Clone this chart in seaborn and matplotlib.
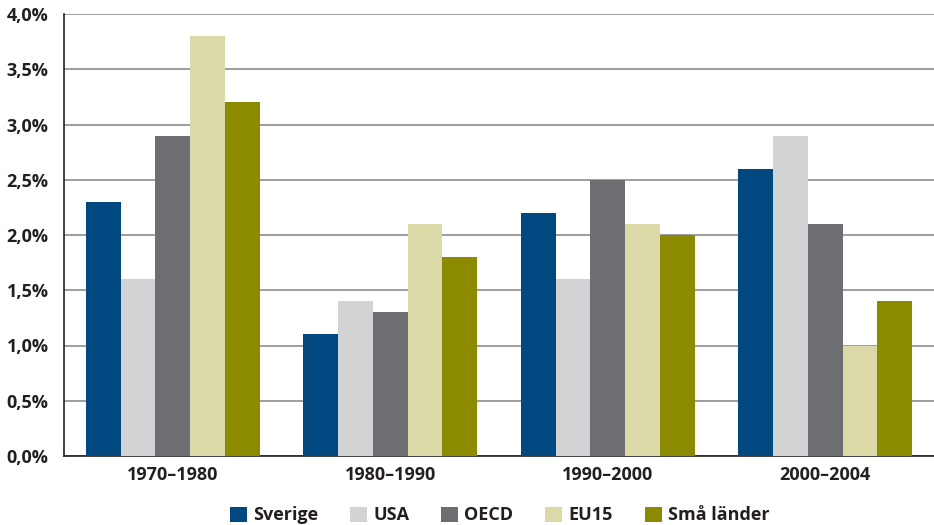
import matplotlib
matplotlib.use("Agg")
import matplotlib.pyplot as plt
import seaborn as sns
import pandas as pd
from matplotlib.ticker import FuncFormatter, FixedLocator
from matplotlib.patches import Patch

periods = ["1970–1980", "1980–1990", "1990–2000", "2000–2004"]
series = ["Sverige", "USA", "OECD", "EU15", "Små länder"]
sverige = [2.3, 1.1, 2.2, 2.6]
usa = [1.6, 1.4, 1.6, 2.9]
oecd = [2.9, 1.3, 2.5, 2.1]
eu15 = [3.8, 2.1, 2.1, 1.0]
sma_lander = [3.2, 1.8, 2.0, 1.4]
colors = ["#00487F", "#D1D3D4", "#6D6E71", "#DCD9A9", "#8C8A00"]

values = [sverige, usa, oecd, eu15, sma_lander]
df = pd.DataFrame(
    [(p, s, v[i]) for s, v in zip(series, values) for i, p in enumerate(periods)],
    columns=["period", "serie", "value"],
)

sns.set_theme(style="white")
plt.rcParams["font.family"] = ["Open Sans", "DejaVu Sans"]
text_color = "#231F20"
fs = 13

fig = plt.figure(figsize=(9.34, 5.25), dpi=100)
ax = fig.add_axes([64 / 934, 1 - 456 / 525, 1 - 64 / 934, (456 - 14) / 525])

sns.barplot(data=df, x="period", y="value", hue="serie", order=periods,
            hue_order=series, palette=colors, width=0.8, saturation=1,
            linewidth=0, ax=ax, legend=False, zorder=3)

ax.set_ylim(0, 4.0)
ax.set_xlim(-0.5, len(periods) - 0.5)
ax.set_yticks([i * 0.5 for i in range(9)])
ax.yaxis.set_major_formatter(FuncFormatter(lambda v, _: f"{v:.1f}%".replace(".", ",")))
ax.grid(axis="y", color="#8E8E8E", linewidth=1.2, zorder=0)
ax.set_axisbelow(True)
ax.set_xlabel("")
ax.set_ylabel("")

for side in ["top", "right"]:
    ax.spines[side].set_visible(False)
for side in ["left", "bottom"]:
    ax.spines[side].set_color("#231F20")
    ax.spines[side].set_linewidth(1.2)

ax.tick_params(axis="y", length=0, pad=11, labelsize=fs, labelcolor=text_color)
ax.tick_params(axis="x", which="major", length=0, pad=7, labelsize=fs, labelcolor=text_color)
for lab in ax.get_xticklabels() + ax.get_yticklabels():
    lab.set_fontweight("bold")

# Group separators on the baseline
ax.xaxis.set_minor_locator(FixedLocator([0.5, 1.5, 2.5]))
ax.tick_params(axis="x", which="minor", direction="in", length=10, width=1.0,
               color="#231F20")

handles = [Patch(facecolor=c, edgecolor="none") for c in colors]
leg = fig.legend(handles, series, loc="lower center", bbox_to_anchor=(0.535, -0.03),
                 ncol=5, frameon=False, handlelength=0.95, handleheight=0.95,
                 handletextpad=0.35, columnspacing=1.75,
                 prop={"size": fs, "weight": "bold"})
for t in leg.get_texts():
    t.set_color(text_color)

fig.savefig("out.png", dpi=100)
